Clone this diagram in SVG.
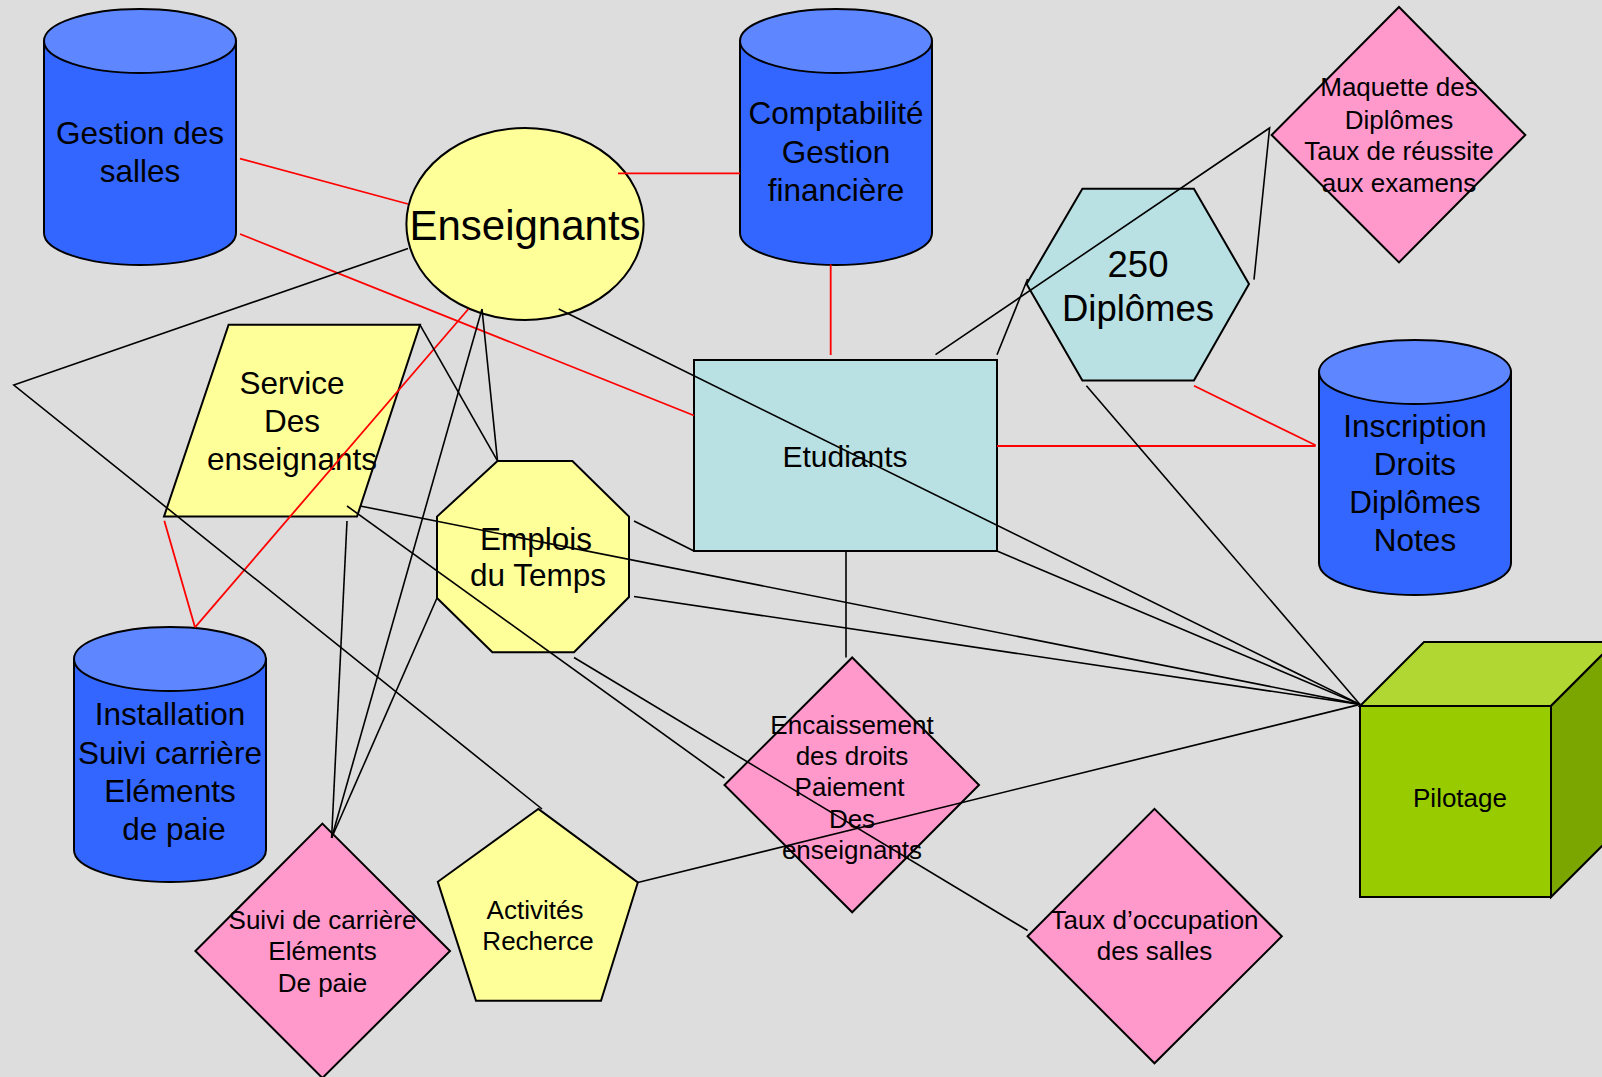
<svg xmlns="http://www.w3.org/2000/svg" width="1602" height="1077" viewBox="0 0 1602 1077">
<style>
.t{font-family:"Liberation Sans",Arial,sans-serif;fill:#000;text-anchor:middle}
.s{stroke:#000;stroke-width:2}
.cb{fill:#3366FF}
.ct{fill:#5E86FF}
.y{fill:#FFFF99}
.c{fill:#B9E0E3}
.p{fill:#FF99CC}
.r{stroke:#FF0000;stroke-width:1.8;fill:none}
.k{stroke:#000;stroke-width:1.6;fill:none}
</style>
<rect width="1602" height="1077" fill="#DDDDDD"/>
<g id="gestion-salles">
<path class="cb s" d="M44,41 V233 A96,32 0 0 0 236,233 V41 Z"/>
<ellipse class="ct s" cx="140" cy="41" rx="96" ry="32"/>
<text class="t" font-size="31.5"><tspan x="140" y="144">Gestion des</tspan><tspan x="140" y="182">salles</tspan></text>
</g>
<g id="comptabilite">
<path class="cb s" d="M740,41 V233 A96,32 0 0 0 932,233 V41 Z"/>
<ellipse class="ct s" cx="836" cy="41" rx="96" ry="32"/>
<text class="t" font-size="31.5"><tspan x="836" y="124">Comptabilité</tspan><tspan x="836" y="163">Gestion</tspan><tspan x="836" y="201">financière</tspan></text>
</g>
<g id="inscription">
<path class="cb s" d="M1319,372 V563 A96,32 0 0 0 1511,563 V372 Z"/>
<ellipse class="ct s" cx="1415" cy="372" rx="96" ry="32"/>
<text class="t" font-size="31.5"><tspan x="1415" y="436.5">Inscription</tspan><tspan x="1415" y="474.5">Droits</tspan><tspan x="1415" y="512.5">Diplômes</tspan><tspan x="1415" y="551">Notes</tspan></text>
</g>
<g id="installation">
<path class="cb s" d="M74,659 V850 A96,32 0 0 0 266,850 V659 Z"/>
<ellipse class="ct s" cx="170" cy="659" rx="96" ry="32"/>
<text class="t" font-size="31.5"><tspan x="170" y="725">Installation</tspan><tspan x="170" y="763.5">Suivi carrière</tspan><tspan x="170" y="801.5">Eléments</tspan><tspan x="174" y="839.5">de paie</tspan></text>
</g>
<g id="enseignants">
<ellipse class="y s" cx="525" cy="224" rx="118.6" ry="96"/>
<text class="t" font-size="42" x="525" y="240">Enseignants</text>
</g>
<g id="service-enseignants">
<polygon class="y s" points="228.6,324.8 420,324.8 357,516.6 164,516.6"/>
<text class="t" font-size="31.5"><tspan x="292" y="394">Service</tspan><tspan x="292" y="432">Des</tspan><tspan x="292" y="470">enseignants</tspan></text>
</g>
<g id="emplois-temps">
<polygon class="y s" points="497.5,461 572.4,461 629,516.6 629,597 574,652.3 492.4,652.3 437,598 437,516.6"/>
<text class="t" font-size="31.5"><tspan x="536" y="550">Emplois</tspan><tspan x="538" y="586">du Temps</tspan></text>
</g>
<g id="etudiants">
<rect class="c s" x="694" y="360" width="303" height="191"/>
<text class="t" font-size="30" x="845" y="467">Etudiants</text>
</g>
<g id="diplomes">
<polygon class="c s" points="1082.4,188.7 1193.9,188.7 1249,284 1193.9,380.6 1082.4,380.6 1026.6,284"/>
<text class="t" font-size="36.5"><tspan x="1138" y="277">250</tspan><tspan x="1138" y="321">Diplômes</tspan></text>
</g>
<g id="maquette">
<polygon class="p s" points="1399,7 1525.3,135 1399,262.4 1271.6,135"/>
<text class="t" font-size="26"><tspan x="1399" y="96">Maquette des</tspan><tspan x="1399" y="128.5">Diplômes</tspan><tspan x="1399" y="160">Taux de réussite</tspan><tspan x="1399" y="191.5">aux examens</tspan></text>
</g>
<g id="suivi-carriere">
<polygon class="p s" points="322.4,823.6 450,951 322.4,1078 195.4,951"/>
<text class="t" font-size="26"><tspan x="322.5" y="928.5">Suivi de carrière</tspan><tspan x="322.5" y="960">Eléments</tspan><tspan x="322.5" y="991.5">De paie</tspan></text>
</g>
<g id="activites">
<polygon class="y s" points="538.3,808.9 637.8,882.5 601,1000.7 476,1000.7 437.8,881.8"/>
<text class="t" font-size="26"><tspan x="535" y="918.5">Activités</tspan><tspan x="538" y="950">Recherce</tspan></text>
</g>
<g id="encaissement">
<polygon class="p s" points="852.2,657.5 979,785 852.2,912.3 724.5,785"/>
<text class="t" font-size="26"><tspan x="852" y="733.5">Encaissement</tspan><tspan x="852" y="764.5">des droits</tspan><tspan x="849.5" y="796">Paiement</tspan><tspan x="852" y="827.5">Des</tspan><tspan x="852" y="859">enseignants</tspan></text>
</g>
<g id="taux-occupation">
<polygon class="p s" points="1154.5,808.9 1281.8,936.3 1154.5,1063.3 1027.6,936.3"/>
<text class="t" font-size="26"><tspan x="1154.5" y="928.5">Taux d’occupation</tspan><tspan x="1154.5" y="959.5">des salles</tspan></text>
</g>
<g id="pilotage">
<polygon fill="#B0D732" class="s" points="1360,706 1424,642 1615,642 1551,706"/>
<polygon fill="#7BA600" class="s" points="1551,706 1615,642 1615,833 1551,897"/>
<rect fill="#99CC00" class="s" x="1360" y="706" width="191" height="191"/>
<text class="t" font-size="26" x="1460" y="807">Pilotage</text>
</g>
<g id="connectors">
<line class="r" x1="240" y1="158.6" x2="408" y2="204"/>
<line class="r" x1="240" y1="234" x2="694" y2="415.5"/>
<line class="r" x1="618" y1="173.4" x2="740" y2="173.4"/>
<line class="r" x1="830.7" y1="264.5" x2="830.7" y2="355"/>
<line class="r" x1="997" y1="446" x2="1315.6" y2="446"/>
<line class="r" x1="1194" y1="385.7" x2="1315.6" y2="445.3"/>
<line class="r" x1="468.4" y1="309" x2="195" y2="627.3"/>
<line class="r" x1="164.3" y1="520.8" x2="195" y2="627.3"/>
<polyline class="k" points="408,248.6 13.8,385 542,809"/>
<line class="k" x1="558.7" y1="309" x2="1360" y2="704.4"/>
<line class="k" x1="482" y1="309" x2="497.5" y2="460.8"/>
<line class="k" x1="482" y1="309" x2="331.6" y2="838"/>
<line class="k" x1="420" y1="324.8" x2="497.5" y2="460.8"/>
<line class="k" x1="360.2" y1="506" x2="1360" y2="704.4"/>
<line class="k" x1="347" y1="506" x2="724.5" y2="778"/>
<line class="k" x1="347" y1="521" x2="331.6" y2="838"/>
<line class="k" x1="437" y1="598" x2="331.6" y2="838"/>
<line class="k" x1="634" y1="521" x2="694" y2="551"/>
<line class="k" x1="634" y1="596.5" x2="1360" y2="704.4"/>
<line class="k" x1="574" y1="657.5" x2="1027.6" y2="930.5"/>
<line class="k" x1="637.8" y1="882.5" x2="1360" y2="704.4"/>
<line class="k" x1="846" y1="551" x2="846" y2="657.5"/>
<polyline class="k" points="935.5,354.7 1269.6,128 1254,279.6"/>
<line class="k" x1="997" y1="354.7" x2="1027.6" y2="279"/>
<line class="k" x1="1086.4" y1="385.7" x2="1360" y2="704.4"/>
<line class="k" x1="997" y1="551" x2="1360" y2="704.4"/>
</g>
</svg>
